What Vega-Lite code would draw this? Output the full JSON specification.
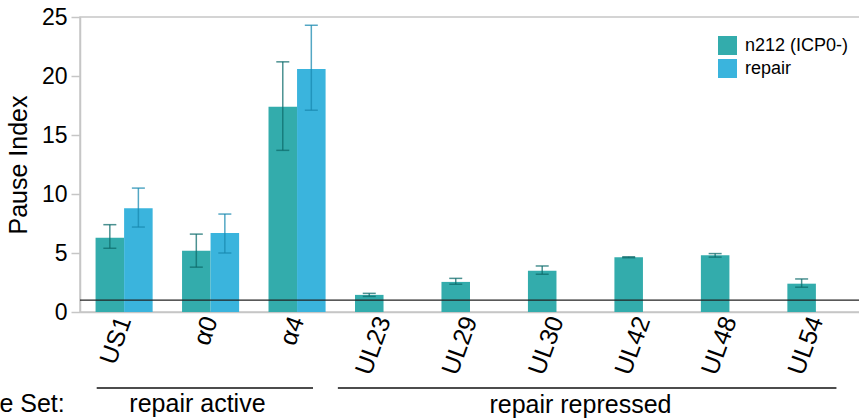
{
  "$schema": "https://vega.github.io/schema/vega-lite/v6.json",
  "width": 780,
  "height": 295,
  "autosize": {"type": "none"},
  "padding": {"left": 80, "top": 17, "right": 0, "bottom": 108},
  "config": {
    "font": "Liberation Sans",
    "view": {"stroke": "#c6c6c6", "strokeWidth": 1.5},
    "axis": {"grid": false}
  },
  "datasets": {
    "bars": [
      {"gene": "US1", "condition": "n212 (ICP0-)", "value": 6.3, "lo": 5.4, "hi": 7.4},
      {"gene": "US1", "condition": "repair", "value": 8.8, "lo": 7.2, "hi": 10.5},
      {"gene": "α0", "condition": "n212 (ICP0-)", "value": 5.2, "lo": 3.8, "hi": 6.6},
      {"gene": "α0", "condition": "repair", "value": 6.7, "lo": 5.0, "hi": 8.3},
      {"gene": "α4", "condition": "n212 (ICP0-)", "value": 17.4, "lo": 13.7, "hi": 21.2},
      {"gene": "α4", "condition": "repair", "value": 20.6, "lo": 17.1, "hi": 24.3},
      {"gene": "UL23", "condition": "n212 (ICP0-)", "value": 1.45, "lo": 1.32, "hi": 1.58},
      {"gene": "UL29", "condition": "n212 (ICP0-)", "value": 2.55, "lo": 2.35, "hi": 2.85},
      {"gene": "UL30", "condition": "n212 (ICP0-)", "value": 3.5, "lo": 3.2, "hi": 3.9},
      {"gene": "UL42", "condition": "n212 (ICP0-)", "value": 4.65, "lo": 4.6, "hi": 4.68},
      {"gene": "UL48", "condition": "n212 (ICP0-)", "value": 4.8, "lo": 4.65, "hi": 4.95},
      {"gene": "UL54", "condition": "n212 (ICP0-)", "value": 2.4, "lo": 2.1, "hi": 2.8}
    ],
    "groups": [
      {"group": "repair active", "from": "US1", "to": "α4", "mid": "α0"},
      {"group": "repair repressed", "from": "UL23", "to": "UL54", "mid": "UL30"}
    ],
    "caption": [
      {"label": "Gene Set:", "at": "US1"}
    ]
  },
  "layer": [
    {
      "data": {"name": "bars"},
      "mark": {"type": "bar"},
      "encoding": {
        "x": {
          "field": "gene", "type": "nominal",
          "scale": {"domain": ["US1", "α0", "α4", "UL23", "UL29", "UL30", "UL42", "UL48", "UL54"], "paddingInner": 0.34, "paddingOuter": 0.18},
          "axis": {"title": null, "ticks": false, "domainColor": "#c6c6c6", "domainWidth": 1.5, "labelAngle": -70, "labelAlign": "right", "labelBaseline": "middle", "labelFontSize": 25, "labelColor": "#000", "labelPadding": 5}
        },
        "xOffset": {"field": "condition", "type": "nominal", "scale": {"domain": ["n212 (ICP0-)", "repair"]}},
        "y": {
          "field": "value", "type": "quantitative",
          "scale": {"domain": [0, 25], "nice": false},
          "axis": {"title": "Pause Index", "titleFontSize": 25, "titleFontWeight": "normal", "titleColor": "#000", "titlePadding": 10, "values": [0, 5, 10, 15, 20, 25], "labelFontSize": 23, "labelColor": "#000", "labelPadding": 4, "tickSize": 9, "tickColor": "#c6c6c6", "tickWidth": 1.5, "domainColor": "#c6c6c6", "domainWidth": 1.5}
        },
        "color": {
          "field": "condition", "type": "nominal",
          "scale": {"domain": ["n212 (ICP0-)", "repair"], "range": ["#33ACAC", "#3AB4DD"]},
          "legend": {"title": null, "orient": "none", "legendX": 638, "legendY": 19, "symbolType": "square", "symbolSize": 361, "symbolStrokeWidth": 0, "labelFontSize": 18, "labelColor": "#000", "labelOffset": 8, "rowPadding": 4, "padding": 0}
        }
      }
    },
    {
      "data": {"name": "bars"},
      "mark": {"type": "rule", "strokeWidth": 1.5, "opacity": 0.75},
      "encoding": {
        "x": {"field": "gene", "type": "nominal"},
        "xOffset": {"field": "condition", "type": "nominal"},
        "y": {"field": "lo", "type": "quantitative", "scale": {"domain": [0, 25], "nice": false}},
        "y2": {"field": "hi"},
        "color": {"condition": {"test": "datum.condition === 'repair'", "value": "#1a8ab0"}, "value": "#0f6c6c"}
      }
    },
    {
      "data": {"name": "bars"},
      "mark": {"type": "tick", "size": 13, "thickness": 1.5, "opacity": 0.75},
      "encoding": {
        "x": {"field": "gene", "type": "nominal"},
        "xOffset": {"field": "condition", "type": "nominal"},
        "y": {"field": "lo", "type": "quantitative", "scale": {"domain": [0, 25], "nice": false}},
        "color": {"condition": {"test": "datum.condition === 'repair'", "value": "#1a8ab0"}, "value": "#0f6c6c"}
      }
    },
    {
      "data": {"name": "bars"},
      "mark": {"type": "tick", "size": 13, "thickness": 1.5, "opacity": 0.75},
      "encoding": {
        "x": {"field": "gene", "type": "nominal"},
        "xOffset": {"field": "condition", "type": "nominal"},
        "y": {"field": "hi", "type": "quantitative", "scale": {"domain": [0, 25], "nice": false}},
        "color": {"condition": {"test": "datum.condition === 'repair'", "value": "#1a8ab0"}, "value": "#0f6c6c"}
      }
    },
    {
      "data": {"values": [{}]},
      "mark": {"type": "rule", "color": "#222", "strokeWidth": 1.2},
      "encoding": {"y": {"datum": 1, "type": "quantitative", "scale": {"domain": [0, 25], "nice": false}}}
    },
    {
      "data": {"name": "groups"},
      "transform": [{"filter": "datum.group === 'repair active'"}],
      "mark": {"type": "rule", "color": "#111", "strokeWidth": 1.5},
      "encoding": {
        "x": {"field": "from", "type": "nominal", "bandPosition": 0.02},
        "x2": {"field": "to", "bandPosition": 0.78},
        "y": {"datum": -6.44, "type": "quantitative", "scale": {"domain": [0, 25], "nice": false}}
      }
    },
    {
      "data": {"name": "groups"},
      "transform": [{"filter": "datum.group === 'repair repressed'"}],
      "mark": {"type": "rule", "color": "#111", "strokeWidth": 1.5},
      "encoding": {
        "x": {"field": "from", "type": "nominal", "bandPosition": -0.3},
        "x2": {"field": "to", "bandPosition": 0.86},
        "y": {"datum": -6.44, "type": "quantitative", "scale": {"domain": [0, 25], "nice": false}}
      }
    },
    {
      "data": {"name": "groups"},
      "transform": [{"filter": "datum.group === 'repair active'"}],
      "mark": {"type": "text", "fontSize": 25, "color": "#000", "align": "center", "baseline": "alphabetic"},
      "encoding": {
        "x": {"field": "mid", "type": "nominal", "bandPosition": 0.27},
        "y": {"datum": -8.5, "type": "quantitative", "scale": {"domain": [0, 25], "nice": false}},
        "text": {"field": "group"}
      }
    },
    {
      "data": {"name": "groups"},
      "transform": [{"filter": "datum.group === 'repair repressed'"}],
      "mark": {"type": "text", "fontSize": 25, "color": "#000", "align": "center", "baseline": "alphabetic"},
      "encoding": {
        "x": {"field": "mid", "type": "nominal", "bandPosition": 0.92},
        "y": {"datum": -8.6, "type": "quantitative", "scale": {"domain": [0, 25], "nice": false}},
        "text": {"field": "group"}
      }
    },
    {
      "data": {"name": "caption"},
      "mark": {"type": "text", "fontSize": 25, "color": "#000", "align": "right", "baseline": "alphabetic"},
      "encoding": {
        "x": {"field": "at", "type": "nominal", "bandPosition": -0.54},
        "y": {"datum": -8.5, "type": "quantitative", "scale": {"domain": [0, 25], "nice": false}},
        "text": {"field": "label"}
      }
    }
  ]
}
